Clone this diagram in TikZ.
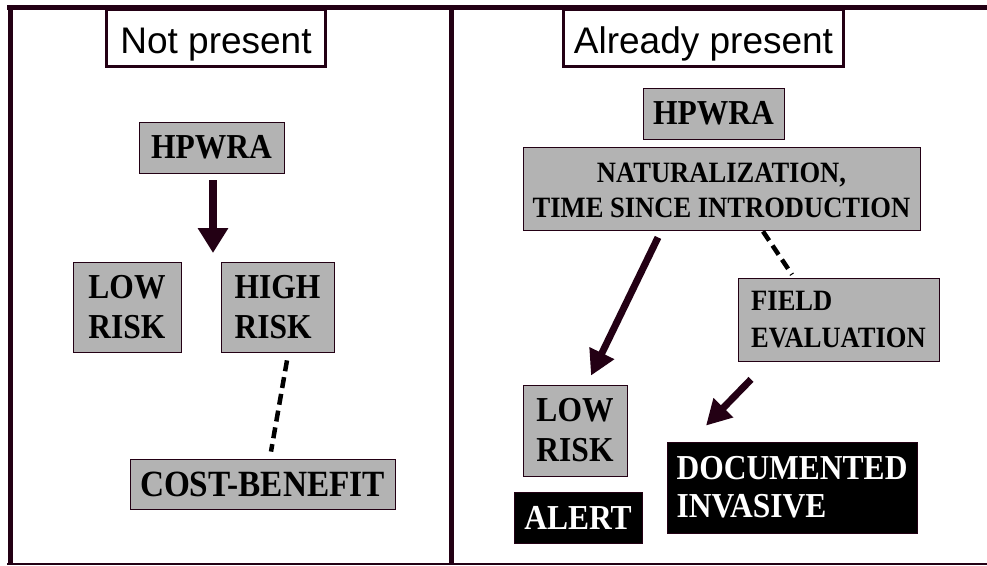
\documentclass[tikz,border=0pt]{standalone}
\usepackage{fontspec}
\setmainfont{Liberation Serif}
\setsansfont{Liberation Sans}
\newfontfamily\tnr[FakeStretch=0.9]{Liberation Serif}
\usetikzlibrary{arrows.meta,calc}
\definecolor{frame}{RGB}{35,0,20}
\definecolor{boxgray}{RGB}{179,179,179}
\tikzset{
  titlebox/.style={draw=frame, line width=3pt, fill=white, inner sep=0pt,
    font=\sffamily\fontsize{37}{44}\selectfont, text height=32pt, text depth=0pt},
  gbox/.style={draw=frame, line width=0.8pt, fill=boxgray, inner sep=0pt, align=center},
  bbox/.style={draw=frame, line width=0.8pt, fill=black, text=white, inner sep=0pt, align=left},
  bigtxt/.style={font=\tnr\bfseries\fontsize{35}{40}\selectfont},
  midtxt/.style={font=\tnr\bfseries\fontsize{29.5}{35}\selectfont},
  bigarrow/.style={draw=frame, line width=7.5pt, -{Triangle[length=25pt,width=29pt]}},
  medarrow/.style={draw=frame, line width=7pt, -{Triangle[length=25pt,width=26pt]}},
  dsh/.style={draw=black, line width=4.5pt, dash pattern=on 11pt off 6pt}
}
\begin{document}
\begin{tikzpicture}[x=1pt,y=-1pt]
\path[use as bounding box, fill=white] (0,0) rectangle (987,565);
% frame
\draw[frame, line width=5pt] (10,5) -- (10,564);
\draw[frame, line width=5pt] (451.5,5) -- (451.5,564);
\draw[frame, line width=2pt] (7,563.5) -- (987,563.5);
% titles
\node[titlebox, minimum width=219pt, minimum height=57pt] (titleL) at (216,37.5) {Not present};
\node[titlebox, minimum width=280pt, minimum height=57pt] (titleR) at (703.5,37.5) {Already present};
\draw[frame, line width=5pt] (7,7.5) -- (987,7.5);
% left panel
\node[gbox, bigtxt, minimum width=145pt, minimum height=51pt] (hpL) at (211.5,147.5) {HPWRA};
\node[gbox, bigtxt, align=left, minimum width=108pt, minimum height=90pt] (lowL) at (127,307) {LOW\\RISK};
\node[gbox, bigtxt, align=left, minimum width=113pt, minimum height=90pt] (highL) at (277.5,307) {HIGH\\RISK};
\node[gbox, font=\tnr\bfseries\fontsize{37}{40}\selectfont, minimum width=265pt, minimum height=50pt] (costL) at (262.5,484) {COST-BENEFIT};
\coordinate (a1) at (213,253);
\draw[bigarrow] ($(hpL.south -| a1)+(0,7)$) -- (a1);
\draw[dsh] ($(highL.south)+(9.5,8)$) -- ($(costL.north)+(8.5,-7)$);
% right panel
\node[gbox, bigtxt, minimum width=141pt, minimum height=51pt] (hpR) at (713.5,113.5) {HPWRA};
\node[gbox, midtxt, minimum width=397pt, minimum height=83pt] (natR) at (721.5,188.5) {\rule{0pt}{23pt}NATURALIZATION,\\TIME SINCE INTRODUCTION};
\node[gbox, font=\tnr\bfseries\fontsize{29.5}{37}\selectfont, align=left, minimum width=201pt, minimum height=83pt] (fieldR) at (838.5,319.5) {FIELD\\EVALUATION};
\node[gbox, bigtxt, align=left, minimum width=104pt, minimum height=91pt] (lowR) at (575,430.5) {LOW\\RISK};
\node[bbox, bigtxt, minimum width=128pt, minimum height=51pt] (alert) at (578,517.5) {ALERT};
\node[bbox, font=\tnr\bfseries\fontsize{35}{38}\selectfont, minimum width=250pt, minimum height=91pt] (doc) at (792,487.5) {DOCUMENTED\\INVASIVE};
\draw[medarrow] ($(natR.south)+(-63.5,7)$) -- ($(lowR.north)+(16,-9)$);
\draw[medarrow] ($(fieldR.south)+(-87.5,18)$) -- ($(doc.north)+(-86,-16)$);
\draw[dsh] ($(natR.south)+(41.5,1)$) -- ($(fieldR.north)+(-46.5,-3)$);
\end{tikzpicture}
\end{document}
